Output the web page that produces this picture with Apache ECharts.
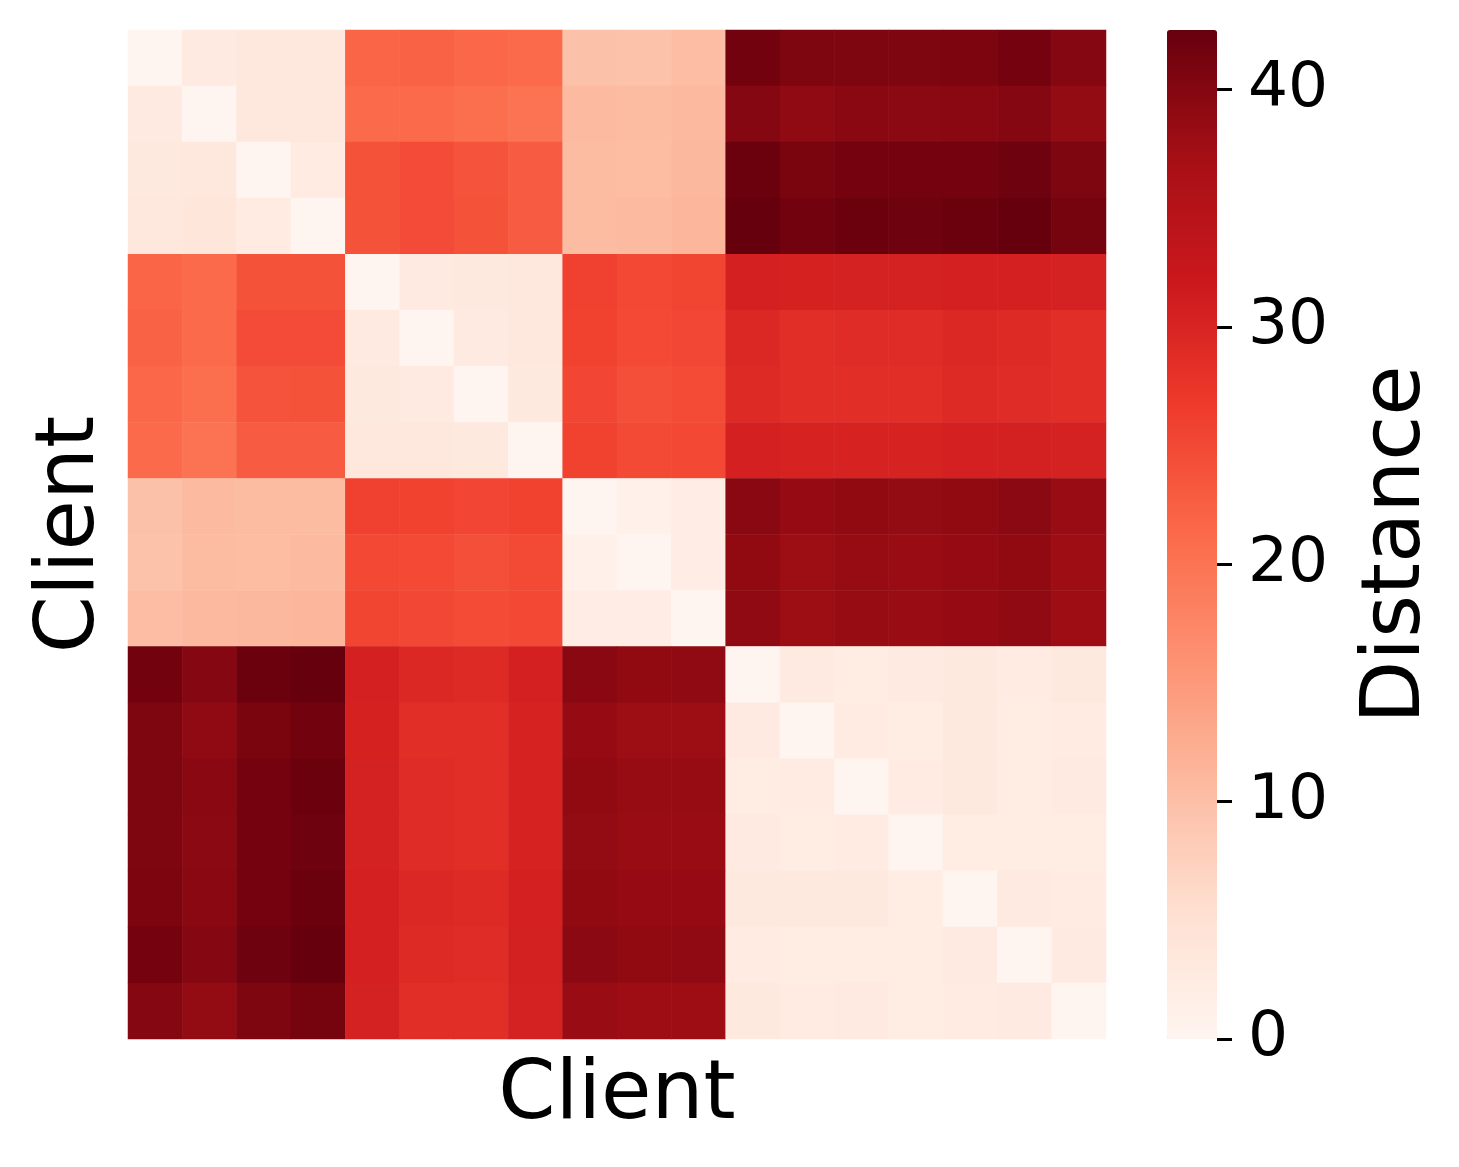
<!DOCTYPE html>
<html>
<head>
<meta charset="utf-8">
<script src="https://cdn.jsdelivr.net/npm/echarts@6/dist/echarts.min.js"></script>
<style>
html,body{margin:0;padding:0;background:#fff;}
#chart{width:1459px;height:1167px;}
</style>
</head>
<body>
<div id="chart"></div>
<script>
// Client indices (18 clients, no tick labels shown)
const clients = ['0','1','2','3','4','5','6','7','8','9','10','11','12','13','14','15','16','17'];

// Pairwise distance matrix, one row per client (top to bottom)
const row0  = [0, 2.8, 3.2, 3.2, 21.8, 22.2, 21.5, 21.3, 9.8, 9.6, 10.3, 41.6, 40.5, 40.5, 40.5, 40.6, 41.3, 39.9];
const row1  = [2.8, 0, 3.6, 3.6, 21.2, 21.3, 20.6, 20.1, 10.6, 10.5, 10.9, 40.0, 39.1, 39.6, 39.4, 39.6, 39.9, 38.7];
const row2  = [3.1, 3.6, 0, 2.5, 24.0, 24.7, 23.8, 22.9, 10.5, 10.4, 11.0, 42.1, 40.9, 41.4, 41.3, 41.4, 41.9, 40.5];
const row3  = [3.2, 3.8, 2.5, 0, 24.0, 24.7, 24.0, 22.9, 10.5, 10.6, 11.3, 42.5, 41.6, 42.1, 41.9, 42.2, 42.5, 41.2];
const row4  = [21.8, 21.2, 24.0, 24.0, 0, 2.8, 3.0, 3.2, 26.0, 25.1, 25.6, 30.6, 30.4, 30.5, 30.5, 30.6, 30.6, 30.5];
const row5  = [22.2, 21.3, 24.7, 24.7, 2.8, 0, 2.8, 3.3, 25.8, 25.0, 25.2, 29.4, 28.6, 28.8, 28.8, 29.4, 29.1, 28.6];
const row6  = [21.5, 20.6, 23.8, 24.0, 3.0, 2.8, 0, 3.0, 25.4, 24.2, 24.8, 29.1, 28.6, 28.6, 28.6, 29.1, 28.8, 28.6];
const row7  = [21.3, 20.1, 22.9, 22.9, 3.2, 3.3, 3.0, 0, 25.8, 24.9, 25.1, 30.6, 30.2, 30.2, 30.2, 30.6, 30.7, 30.5];
const row8  = [9.8, 10.6, 10.5, 10.5, 26.0, 25.8, 25.4, 25.8, 0, 1.3, 2.0, 39.6, 38.5, 38.9, 38.7, 38.9, 39.4, 38.2];
const row9  = [9.6, 10.5, 10.4, 10.6, 25.1, 25.0, 24.2, 24.9, 1.3, 0, 1.9, 38.9, 38.0, 38.4, 38.2, 38.5, 38.9, 37.8];
const row10 = [10.3, 10.9, 11.0, 11.3, 25.6, 25.2, 24.8, 25.1, 2.0, 1.9, 0, 39.1, 38.0, 38.4, 38.2, 38.5, 39.1, 37.8];
const row11 = [41.6, 40.0, 42.1, 42.5, 30.6, 29.4, 29.1, 30.6, 39.6, 38.9, 39.1, 0, 2.8, 2.4, 2.9, 3.0, 2.5, 3.1];
const row12 = [40.5, 39.1, 40.9, 41.6, 30.4, 28.6, 28.6, 30.2, 38.5, 38.0, 38.0, 2.8, 0, 2.5, 2.4, 3.0, 2.3, 2.5];
const row13 = [40.5, 39.6, 41.4, 42.1, 30.5, 28.8, 28.6, 30.2, 38.9, 38.4, 38.4, 2.4, 2.5, 0, 2.5, 3.0, 2.3, 2.7];
const row14 = [40.5, 39.4, 41.3, 41.9, 30.5, 28.8, 28.6, 30.2, 38.7, 38.2, 38.2, 2.9, 2.4, 2.5, 0, 2.4, 2.4, 2.4];
const row15 = [40.6, 39.6, 41.4, 42.2, 30.6, 29.4, 29.1, 30.6, 38.9, 38.5, 38.5, 3.0, 3.0, 3.0, 2.4, 0, 2.9, 2.6];
const row16 = [41.3, 39.9, 41.9, 42.5, 30.6, 29.1, 28.8, 30.7, 39.4, 38.9, 39.1, 2.5, 2.3, 2.3, 2.4, 2.9, 0, 2.7];
const row17 = [39.9, 38.7, 40.5, 41.2, 30.5, 28.6, 28.6, 30.5, 38.2, 37.8, 37.8, 3.1, 2.5, 2.7, 2.4, 2.6, 2.7, 0];
const rows = [row0,row1,row2,row3,row4,row5,row6,row7,row8,row9,row10,row11,row12,row13,row14,row15,row16,row17];

// Colorbar tick values
const colorbarTicks = [0, 10, 20, 30, 40];

// matplotlib "Reds"
const redsColors = ['#fff5f0','#fee0d2','#fcbba1','#fc9272','#fb6a4a','#ef3b2c','#cb181d','#a50f15','#67000d'];

const heatData = [];
rows.forEach((r, yi) => r.forEach((v, xi) => heatData.push([xi, yi, v])));
let vmax = 0;
rows.forEach(r => r.forEach(v => { if (v > vmax) vmax = v; }));

const FONT = 'DejaVu Sans';
const chart = echarts.init(document.getElementById('chart'), null, {renderer: 'canvas'});
chart.setOption({
  backgroundColor: '#ffffff',
  animation: false,
  textStyle: {fontFamily: FONT, color: '#000'},
  grid: [
    {left: 128, top: 30, width: 978, height: 1009},
    {left: 1167, top: 30, width: 50, height: 1009}
  ],
  xAxis: [
    {
      type: 'category', data: clients, gridIndex: 0,
      axisLine: {show: false}, axisTick: {show: false}, axisLabel: {show: false},
      splitLine: {show: false},
      name: 'Client', nameLocation: 'middle', nameGap: 17,
      nameTextStyle: {fontFamily: FONT, fontSize: 82, color: '#000', verticalAlign: 'top'}
    },
    {
      type: 'category', data: ['cb'], gridIndex: 1, show: false
    }
  ],
  yAxis: [
    {
      type: 'category', data: clients, gridIndex: 0, inverse: true,
      axisLine: {show: false}, axisTick: {show: false}, axisLabel: {show: false},
      splitLine: {show: false},
      name: 'Client', nameLocation: 'middle', nameGap: 15, nameRotate: 90,
      nameTextStyle: {fontFamily: FONT, fontSize: 82, color: '#000'}
    },
    {
      type: 'value', gridIndex: 1, position: 'right',
      min: 0, max: vmax,
      axisLine: {show: false, onZero: false},
      axisTick: {show: true, inside: false, length: 15, customValues: colorbarTicks,
                 lineStyle: {color: '#000', width: 3}},
      axisLabel: {
        fontFamily: FONT, fontSize: 63, color: '#000', margin: 31,
        customValues: colorbarTicks,
        formatter: v => String(v)
      },
      splitLine: {show: false},
      name: 'Distance', nameLocation: 'middle', nameGap: 140, nameRotate: 90,
      nameTextStyle: {fontFamily: FONT, fontSize: 82, color: '#000', padding: [0, 20, 0, 0]}
    }
  ],
  visualMap: {
    type: 'continuous',
    seriesIndex: 0,
    min: 0, max: vmax,
    calculable: false,
    orient: 'vertical',
    left: 1167, top: 30,
    itemWidth: 50, itemHeight: 1009,
    padding: 0,
    text: null,
    showLabel: false,
    hoverLink: false,
    inRange: {color: redsColors}
  },
  series: [
    {
      type: 'heatmap',
      xAxisIndex: 0, yAxisIndex: 0,
      data: heatData,
      itemStyle: {borderWidth: 0},
      emphasis: {disabled: true},
      progressive: 0
    },
    {
      type: 'line', xAxisIndex: 1, yAxisIndex: 1, data: [], silent: true
    }
  ]
});
</script>
</body>
</html>
